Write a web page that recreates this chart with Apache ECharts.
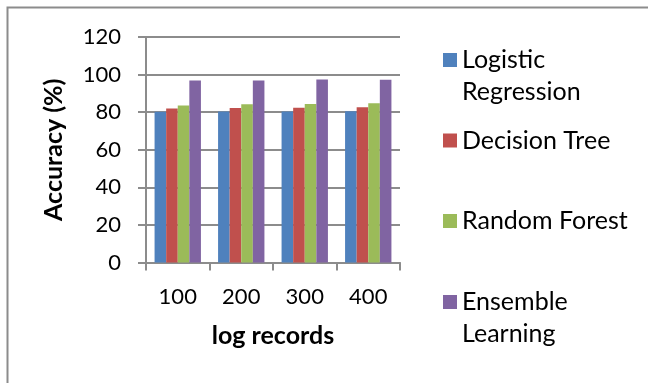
<!DOCTYPE html>
<html>
<head>
<meta charset="utf-8">
<script src="https://cdn.jsdelivr.net/npm/echarts@6/dist/echarts.min.js"></script>
<style>
  html, body { margin: 0; padding: 0; background: #fff; }
  #chart { width: 648px; height: 383px; }
</style>
</head>
<body>
<div id="chart"></div>
<script>
// Accuracy of four classifiers versus number of log records
const categories = ['100', '200', '300', '400'];
const seriesNames = ['Logistic Regression', 'Decision Tree', 'Random Forest', 'Ensemble Learning'];
const legendLabels = ['Logistic\nRegression', 'Decision Tree', 'Random Forest', 'Ensemble\nLearning'];
const logisticRegression = [80.2, 80.3, 80.4, 80.5];
const decisionTree = [81.9, 82.2, 82.4, 82.6];
const randomForest = [83.6, 84.2, 84.4, 84.8];
const ensembleLearning = [96.9, 96.9, 97.4, 97.2];
const yTicks = [0, 20, 40, 60, 80, 100, 120];

const colors = ['#4F81BD', '#C0504D', '#9BBB59', '#8064A2'];
const values = [logisticRegression, decisionTree, randomForest, ensembleLearning];
const font = 'Lato, "Open Sans", sans-serif';
const axisGray = '#8C8C8C';

// vertical centre of each legend swatch
const legendCenters = [60, 140.5, 221, 302];
const LINE_H = 32;

// Two-line labels get a blank leading line so the swatch sits beside the first line.
function legendText(label) {
  return label.indexOf('\n') >= 0 ? '\u00a0\n' + label : label;
}
function legendTop(label, centre) {
  const lines = legendText(label).split('\n').length;
  return centre - (lines * LINE_H) / 2;
}

const chart = echarts.init(document.getElementById('chart'), null, { renderer: 'canvas' });

chart.setOption({
  backgroundColor: '#fff',
  animation: false,
  color: colors,
  textStyle: { fontFamily: font },
  grid: { left: 146, top: 37, width: 254, height: 225.5, containLabel: false },
  legend: seriesNames.map((name, i) => ({
    data: [name],
    left: 443,
    top: legendTop(legendLabels[i], legendCenters[i]),
    padding: 0,
    itemWidth: 14,
    itemHeight: 14,
    itemGap: 0,
    selectedMode: false,
    icon: 'rect',
    formatter: () => legendText(legendLabels[i]),
    textStyle: {
      fontFamily: font,
      fontSize: 25,
      color: '#000',
      lineHeight: LINE_H
    }
  })),
  xAxis: {
    type: 'category',
    data: categories,
    name: 'log records',
    nameLocation: 'middle',
    nameGap: 61,
    nameTextStyle: { fontFamily: font, fontSize: 25, fontWeight: 'bold', color: '#000' },
    axisLine: { lineStyle: { color: axisGray, width: 2 } },
    axisTick: { show: true, length: 8, inside: false, lineStyle: { color: axisGray, width: 2 } },
    axisLabel: { fontFamily: font, fontSize: 22, color: '#000', margin: 23 },
    splitLine: { show: false }
  },
  yAxis: {
    type: 'value',
    min: 0,
    max: 120,
    interval: 20,
    name: 'Accuracy (%)',
    nameLocation: 'middle',
    nameGap: 80,
    nameTextStyle: { fontFamily: font, fontSize: 25, fontWeight: 'bold', color: '#000' },
    axisLine: { show: true, lineStyle: { color: axisGray, width: 2 } },
    axisTick: { show: true, length: 8, lineStyle: { color: axisGray, width: 2 } },
    axisLabel: {
      fontFamily: font, fontSize: 22, color: '#000', margin: 25,
      formatter: v => (yTicks.indexOf(v) >= 0 ? String(v) : '')
    },
    splitLine: { show: true, lineStyle: { color: axisGray, width: 2 } }
  },
  series: seriesNames.map((name, i) => ({
    name: name,
    type: 'bar',
    data: values[i],
    barGap: '0%',
    barCategoryGap: '27%',
    itemStyle: { color: colors[i] }
  })),
  graphic: [{
    type: 'rect',
    silent: true,
    z: -1,
    shape: { x: 7.5, y: 7.5, width: 700, height: 420 },
    style: { fill: null, stroke: '#8C8C8C', lineWidth: 2 }
  }]
});
</script>
</body>
</html>
